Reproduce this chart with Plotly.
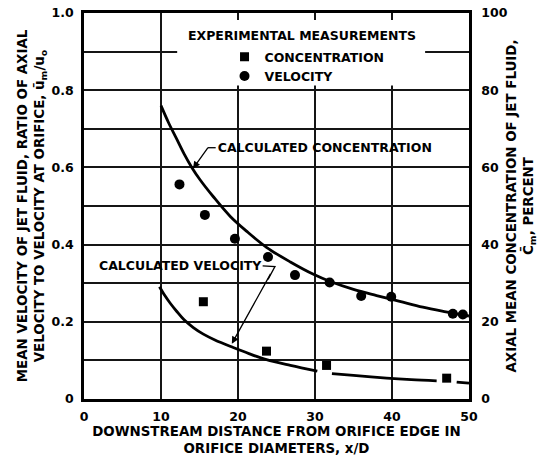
import plotly.graph_objects as go

# ---------------- data ----------------
# calculated concentration curve (percent, right axis)
calc_conc_x = [10, 11, 12, 13, 14, 15, 16.8, 19, 21.1, 23.7, 26.8, 29.8, 31.9, 35, 38, 41, 44, 47, 50]
calc_conc_y = [76, 71.5, 67.5, 63.5, 60, 57, 52.4, 47.3, 43.5, 39.3, 35.5, 32.3, 30.5, 28.4, 26.8, 25.3, 23.8, 22.6, 21.5]

# calculated velocity curve (ratio, left axis) - drawn with breaks around symbols
calc_vel_x = [9.8, 10.5, 11.2, 12, 13, 14.2, 15.5, 17, 19.3, 21.5, 23.7, 26.8, 30.3, None,
              32.2, 35, 39.3, 42.5, 45.8, None, 48.4, 50]
calc_vel_y = [0.291, 0.268, 0.248, 0.228, 0.205, 0.185, 0.168, 0.153, 0.134, 0.117, 0.102, 0.087, 0.072, None,
              0.066, 0.061, 0.054, 0.050, 0.047, None, 0.044, 0.041]

# experimental measurements
exp_conc_x = [15.5, 23.7, 31.5, 47.1]
exp_conc_y = [25.2, 12.4, 8.7, 5.4]          # percent

exp_vel_x = [12.4, 15.7, 19.6, 23.9, 27.4, 31.9, 36.0, 39.9, 47.9, 49.2]
exp_vel_y = [0.556, 0.477, 0.415, 0.368, 0.321, 0.302, 0.267, 0.265, 0.221, 0.219]

x_ticks = [0, 10, 20, 30, 40, 50]
y_ticks = [0, 0.2, 0.4, 0.6, 0.8, 1.0]
y_ticktext = ["0", "0.2", "0.4", "0.6", "0.8", "1.0"]
y2_ticks = [0, 20, 40, 60, 80, 100]

# ---------------- styling ----------------
FONT = dict(family="DejaVu Sans", size=12.5, color="black", weight="bold")
TFONT = dict(family="DejaVu Sans", size=13.4, color="black", weight="bold")
GRID = "#151515"

fig = go.Figure()

fig.add_trace(go.Scatter(
    x=calc_conc_x, y=calc_conc_y, yaxis="y2", mode="lines",
    line=dict(color="black", width=2.8, shape="spline", smoothing=1.0),
    name="Calculated concentration", showlegend=False, hoverinfo="skip"))

fig.add_trace(go.Scatter(
    x=calc_vel_x, y=calc_vel_y, mode="lines",
    line=dict(color="black", width=2.8, shape="spline", smoothing=1.0),
    name="Calculated velocity", showlegend=False, connectgaps=False, hoverinfo="skip"))

fig.add_trace(go.Scatter(
    x=exp_conc_x, y=exp_conc_y, yaxis="y2", mode="markers",
    marker=dict(symbol="square", size=9, color="black"),
    name="CONCENTRATION", cliponaxis=False))

fig.add_trace(go.Scatter(
    x=exp_vel_x, y=exp_vel_y, mode="markers",
    marker=dict(symbol="circle", size=10, color="black"),
    name="VELOCITY", cliponaxis=False))

fig.update_layout(
    width=541, height=459,
    margin=dict(l=84, r=72, t=13, b=60, autoexpand=False),
    paper_bgcolor="white", plot_bgcolor="white",
    font=FONT,
    showlegend=True,
    legend=dict(x=0.365, y=0.9245, xanchor="left", yanchor="top",
                bgcolor="rgba(0,0,0,0)", borderwidth=0, font=FONT,
                itemwidth=30, tracegroupgap=0),
    xaxis=dict(range=[0, 50], tickvals=x_ticks, showgrid=True, gridcolor=GRID, gridwidth=1.8,
               showline=True, linecolor="black", linewidth=2.6, mirror=True,
               zeroline=False, ticks="", ticklabelstandoff=4, tickfont=FONT, fixedrange=True,
               automargin=False,
               title=dict(text="DOWNSTREAM DISTANCE FROM ORIFICE EDGE IN<br>ORIFICE DIAMETERS, x/D",
                          font=TFONT, standoff=3)),
    yaxis=dict(range=[0, 1.0], tickvals=y_ticks, ticktext=y_ticktext, showgrid=True,
               gridcolor=GRID, gridwidth=1.8,
               minor=dict(dtick=0.1, showgrid=True, gridcolor=GRID, gridwidth=1.8),
               showline=True, linecolor="black", linewidth=2.6, mirror=True,
               zeroline=False, ticks="", ticklabelstandoff=5, tickfont=FONT, fixedrange=True,
               automargin=False,
               title=dict(text="MEAN VELOCITY OF JET FLUID, RATIO OF AXIAL<br>"
                               "VELOCITY TO VELOCITY AT ORIFICE, ū<sub>m</sub>/u<sub>o</sub>",
                          font=TFONT, standoff=4)),
    yaxis2=dict(range=[0, 100], tickvals=y2_ticks, overlaying="y", side="right",
                showgrid=False, showline=True, linecolor="black", linewidth=2.6,
                zeroline=False, ticks="", ticklabelstandoff=7, tickfont=FONT, fixedrange=True,
                automargin=False,
                title=dict(text="AXIAL MEAN CONCENTRATION OF JET FLUID,<br>C\u0304<sub>m</sub>, PERCENT",
                           font=TFONT, standoff=0)),
)

# white box behind the experimental-measurements key
fig.add_shape(type="rect", xref="x", yref="y", x0=12.1, x1=44.3, y0=0.812, y1=0.982,
              fillcolor="white", line=dict(width=0), layer="above")

ann = []
ann.append(dict(text="EXPERIMENTAL MEASUREMENTS", xref="paper", yref="paper",
                x=0.5655, y=0.943, xanchor="center", yanchor="middle", showarrow=False))
# labels with leader arrows (tail at the label, head on the curve)
ann.append(dict(text="\u00a0\u00a0CALCULATED CONCENTRATION", xref="x", yref="y", axref="x", ayref="y",
                x=14.15, y=0.597, ax=16.1, ay=0.651, xanchor="left", yanchor="middle",
                showarrow=True, arrowhead=2, arrowsize=1.1, arrowwidth=1.3,
                arrowcolor="black", standoff=0, borderpad=0))
ann.append(dict(text="CALCULATED VELOCITY\u00a0\u00a0\u00a0", xref="x", yref="y", axref="x", ayref="y",
                x=19.2, y=0.143, ax=24.8, ay=0.345, xanchor="right", yanchor="middle",
                showarrow=True, arrowhead=2, arrowsize=1.1, arrowwidth=1.3,
                arrowcolor="black", standoff=0, borderpad=0))
for a in ann:
    a["font"] = FONT
fig.update_layout(annotations=ann)

# hook segments of the leaders
fig.add_shape(type="line", xref="x", yref="y", x0=16.1, y0=0.651, x1=17.1, y1=0.651,
              line=dict(color="black", width=1.3))
fig.add_shape(type="path", xref="x", yref="y",
              path="M 23.2 0.345 L 24.8 0.343 L 23.9 0.310",
              line=dict(color="black", width=1.3))

fig.write_html("out.html")
